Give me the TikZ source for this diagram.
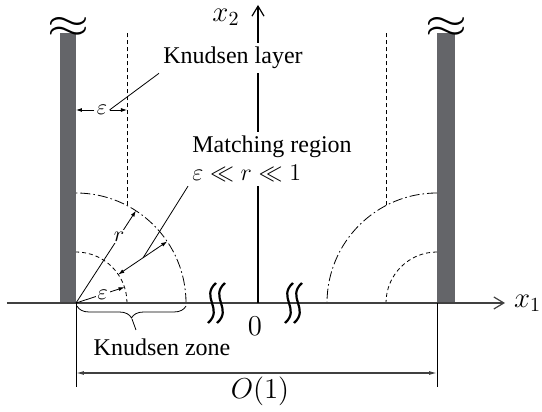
\documentclass[tikz,border=0pt]{standalone}
\usepackage{fontspec}
\setmainfont{Liberation Serif}
\usepackage{amsmath}
\usetikzlibrary{positioning, arrows.meta, decorations.pathreplacing}
\definecolor{wall}{RGB}{100,101,105}

\begin{document}
\begin{tikzpicture}[x=0.5pt, y=0.5pt,
    axisarr/.style={line width=0.6pt, -{Straight Barb[length=5pt,width=6pt]}},
    smallarr/.style={line width=0.4pt, -{Latex[length=3pt,width=2pt]}},
    lbl/.style={fill=white, inner sep=1pt, font=\fontsize{11}{13}\selectfont},
    txt/.style={fill=white, inner sep=2pt, font=\large},
    dotline/.style={line width=0.4pt, dash pattern=on 2pt off 1.5pt},
    dashdotline/.style={line width=0.4pt, dash pattern=on 5pt off 1.5pt on 0.8pt off 1.5pt}]
  \useasboundingbox (-76,-109) rectangle (466,303);
  \coordinate (o) at (0,0);
  \coordinate (w) at (361,0);

  \fill[wall] (-16,0) rectangle (0,270);
  \fill[wall] (361,0) rectangle (379,270);
  \node[font=\huge, inner sep=0pt] (ap1) at (-8,276) {\scalebox{1.3}[1]{$\approx$}};
  \node[font=\huge, inner sep=0pt] (ap2) at (370,276) {\scalebox{1.3}[1]{$\approx$}};

  \draw[dashdotline] (110,0) arc (0:90:110);
  \draw[dotline] (51,0) arc (0:90:51);
  \draw[dashdotline] (361,110) arc (90:180:110);
  \draw[dotline] (361,51) arc (90:180:51);
  \draw[dotline] (51,97.5) -- (51,270);
  \draw[dotline] (310,97.5) -- (310,270);

  \coordinate (x1a) at (-69,0);
  \coordinate (x1b) at (429,0);
  \draw[axisarr, black!75] (x1a) -- (x1b);
  \node[font=\Large, right=1pt of x1b] (x1l) {$x_1$};
  \coordinate (x2a) at (182,0);
  \coordinate (x2b) at (182,298);
  \draw[axisarr] (x2a) -- (x2b);
  \node[font=\Large] (x2l) at (150,286) {$x_2$};
  \node[font=\Large] (zero) at (179,-23) {$0$};

  \foreach \x in {136,145,213,222}
    \draw[line width=1.1pt] (\x+4,20) .. controls (\x-12,6) and (\x+12,-6) .. (\x-4,-20);

  \coordinate (l1) at (0,193);
  \coordinate (l2) at (51,193);
  \node[lbl] (e1) at (26,193) {$\varepsilon$};
  \draw[smallarr] (e1) -- (l1);
  \draw[smallarr] (e1) -- (l2);
  \node[txt, anchor=west] (layer) at (83,245) {Knudsen layer};
  \draw[line width=0.4pt] (layer.south west) -- (e1.east);

  \coordinate (rr) at (57:110);
  \draw[smallarr] (o) -- node[lbl, pos=0.72] (rl) {$r$} (rr);
  \coordinate (ee) at (18:51);
  \draw[smallarr] (o) -- node[lbl, pos=0.55] (el) {$\varepsilon$} (ee);

  \coordinate (m) at (34:81);
  \coordinate (m1) at (34:110);
  \coordinate (m2) at (34:51);
  \draw[smallarr] (m) -- (m1);
  \draw[smallarr] (m) -- (m2);
  \node[txt, anchor=west, align=left] (match) at (112,144)
    {Matching region\\ {\fontsize{13}{15}\selectfont$\varepsilon \ll r \ll 1$}};
  \draw[line width=0.4pt] (match.south west) -- (m);

  \draw[line width=0.4pt, decorate, decoration={brace, mirror, amplitude=6pt}] (1,-3) -- (110,-3);
  \coordinate (bt) at (56,-16);
  \coordinate (zt) at (60,-27);
  \draw[line width=0.4pt] (bt) -- (zt);
  \node[font=\large] (zone) at (86,-44) {Knudsen zone};

  \coordinate (d1) at (0,-84);
  \coordinate (d2) at (361,-84);
  \draw[line width=0.4pt] (o) -- (d1);
  \draw[line width=0.4pt] (w) -- (d2);
  \coordinate (o1) at (0,-70);
  \coordinate (o2) at (361,-70);
  \draw[black!75, line width=0.6pt, {Latex[length=4pt,width=2pt]}-{Latex[length=4pt,width=2pt]}] (o1) -- (o2);
  \node[font=\Large] (big) at (184,-88) {$O(1)$};
\end{tikzpicture}
\end{document}
